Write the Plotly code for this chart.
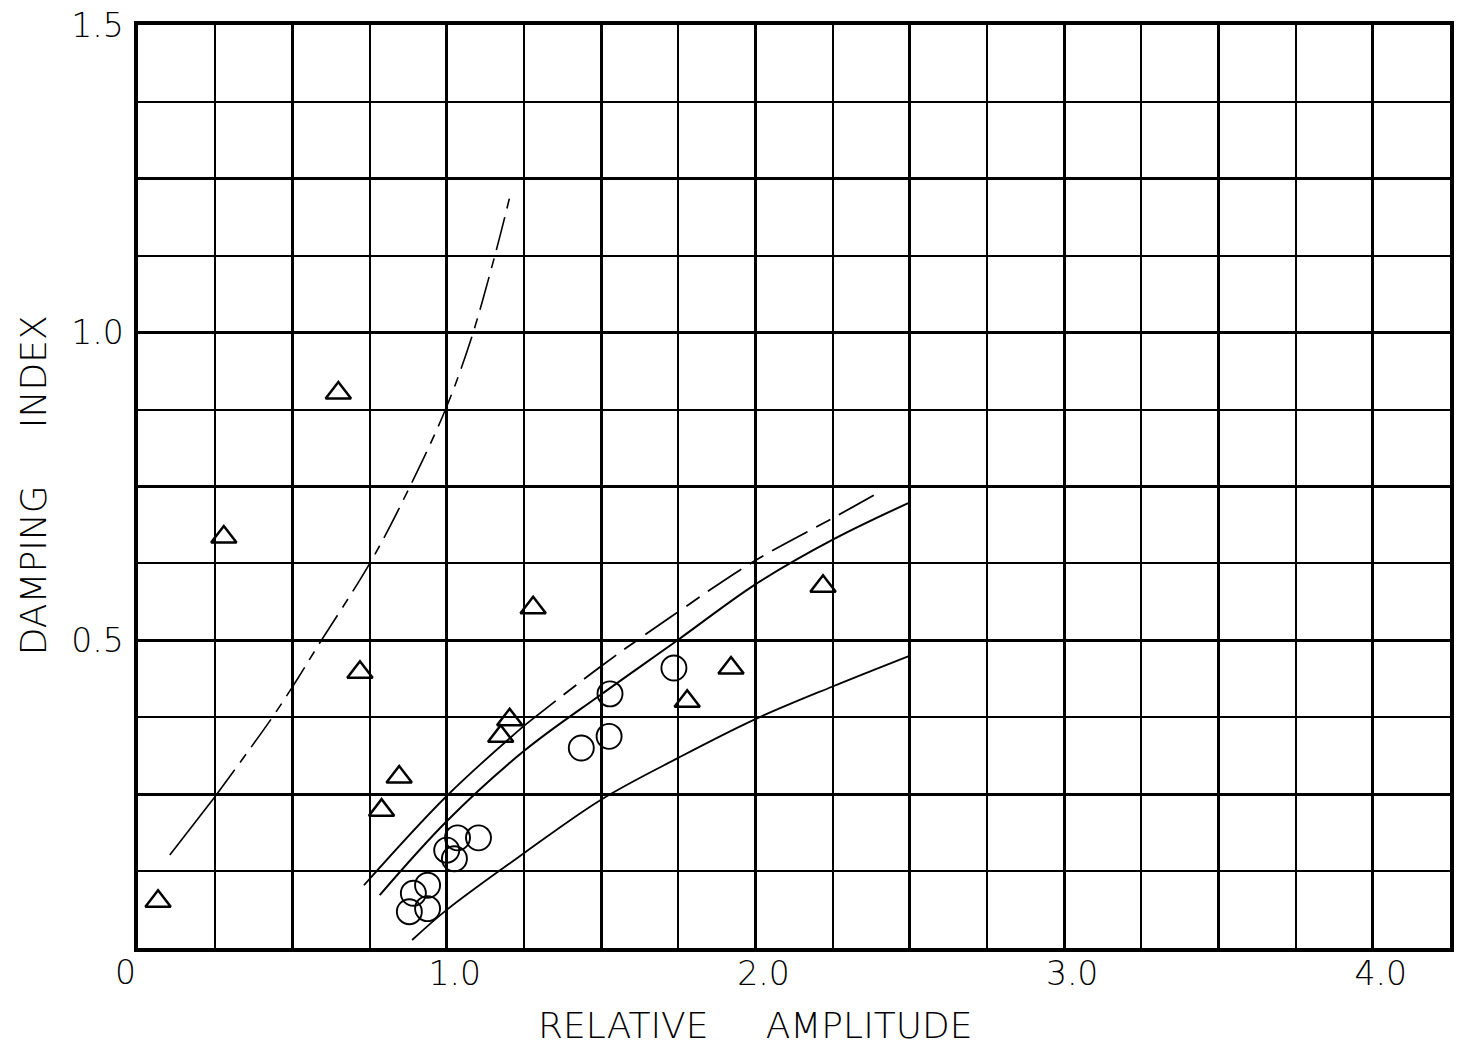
import plotly.graph_objects as go

# ---- data ----
tri_x = [0.065, 0.278, 0.649, 0.719, 0.789, 0.846, 1.175, 1.204, 1.280, 1.779, 1.921, 2.219]
tri_y = [0.076, 0.668, 0.902, 0.448, 0.224, 0.278, 0.344, 0.371, 0.553, 0.401, 0.455, 0.588]

circ_x = [0.879, 0.892, 0.938, 0.938, 1.000, 1.025, 1.035, 1.103, 1.436, 1.526, 1.529, 1.736]
circ_y = [0.059, 0.089, 0.102, 0.064, 0.159, 0.145, 0.179, 0.179, 0.325, 0.344, 0.413, 0.455]

# steep left curve (solid start, dashed upper part)
curve_a_x = [0.103, 0.248, 0.434, 0.515, 0.579, 0.753, 0.875, 0.995, 1.078, 1.159, 1.204]
curve_a_y = [0.151, 0.245, 0.374, 0.436, 0.488, 0.627, 0.744, 0.874, 0.988, 1.131, 1.220]

# upper middle curve (solid lower, dashed upper)
curve_b_x = [0.732, 1.000, 1.250, 1.500, 1.723, 1.994, 2.252, 2.406]
curve_b_y = [0.102, 0.247, 0.361, 0.458, 0.537, 0.628, 0.699, 0.742]

# middle solid curve
curve_c_x = [0.783, 1.000, 1.250, 1.500, 1.750, 2.000, 2.252, 2.495]
curve_c_y = [0.086, 0.206, 0.320, 0.412, 0.501, 0.591, 0.664, 0.723]

# lower solid curve
curve_d_x = [0.888, 1.000, 1.250, 1.500, 1.750, 2.000, 2.250, 2.495]
curve_d_y = [0.013, 0.062, 0.154, 0.241, 0.309, 0.372, 0.425, 0.474]

x_tickvals = [0, 0.5, 1.0, 1.5, 2.0, 2.5, 3.0, 3.5, 4.0]
x_ticktext = ["", "", "1.0", "", "2.0", "", "3.0", "", "4.0"]
y_tickvals = [0, 0.25, 0.5, 0.75, 1.0, 1.25, 1.5]
y_ticktext = ["", "", "0.5", "", "1.0", "", "1.5"]

FONT = "DejaVu Sans"
NB = "\u00a0"

fig = go.Figure()

line_kw = dict(color="black", shape="spline", smoothing=1.0)

# curve A
fig.add_trace(go.Scatter(x=curve_a_x[:2], y=curve_a_y[:2], mode="lines",
                         line=dict(width=1.6, **line_kw), showlegend=False, hoverinfo="skip"))
fig.add_trace(go.Scatter(x=curve_a_x[1:], y=curve_a_y[1:], mode="lines",
                         line=dict(width=1.6, dash="34px,9px,10px,9px", **line_kw),
                         showlegend=False, hoverinfo="skip"))
# curve B
fig.add_trace(go.Scatter(x=curve_b_x[:3], y=curve_b_y[:3], mode="lines",
                         line=dict(width=1.8, **line_kw), showlegend=False, hoverinfo="skip"))
fig.add_trace(go.Scatter(x=curve_b_x[2:], y=curve_b_y[2:], mode="lines",
                         line=dict(width=1.8, dash="40px,10px,16px,10px", **line_kw),
                         showlegend=False, hoverinfo="skip"))
# curve C
fig.add_trace(go.Scatter(x=curve_c_x, y=curve_c_y, mode="lines",
                         line=dict(width=2.0, **line_kw), showlegend=False, hoverinfo="skip"))
# curve D
fig.add_trace(go.Scatter(x=curve_d_x, y=curve_d_y, mode="lines",
                         line=dict(width=1.8, **line_kw), showlegend=False, hoverinfo="skip"))

# markers
fig.add_trace(go.Scatter(x=tri_x, y=tri_y, mode="markers",
                         marker=dict(symbol="triangle-up-open", size=22, color="black",
                                     line=dict(width=2.5, color="black")),
                         showlegend=False))
fig.add_trace(go.Scatter(x=circ_x, y=circ_y, mode="markers",
                         marker=dict(symbol="circle-open", size=25, color="black",
                                     line=dict(width=1.9, color="black")),
                         showlegend=False))

fig.update_layout(
    width=1458, height=1053,
    margin=dict(l=138, r=4, t=25, b=105),
    paper_bgcolor="white", plot_bgcolor="white",
    font=dict(family=FONT, color="black"),
    showlegend=False,
    xaxis=dict(
        range=[0, 4.25], tickmode="array", tickvals=x_tickvals, ticktext=x_ticktext,
        showgrid=True, gridcolor="black", gridwidth=2.6,
        minor=dict(tickmode="linear", tick0=0, dtick=0.25, showgrid=True,
                   gridcolor="black", gridwidth=2.0, ticks=""),
        showline=True, linecolor="black", linewidth=3.5, mirror=True,
        zeroline=False, ticks="", ticklabelshift=8, ticklabelstandoff=-6,
        tickfont=dict(size=33, family=FONT, weight=200),
    ),
    yaxis=dict(
        range=[0, 1.5], tickmode="array", tickvals=y_tickvals, ticktext=y_ticktext,
        showgrid=True, gridcolor="black", gridwidth=2.6,
        minor=dict(tickmode="linear", tick0=0, dtick=0.125, showgrid=True,
                   gridcolor="black", gridwidth=1.6, ticks=""),
        showline=True, linecolor="black", linewidth=3.5, mirror=True,
        zeroline=False, ticks="", ticklabelstandoff=4,
        tickfont=dict(size=33, family=FONT, weight=200),
    ),
    annotations=[
        dict(text="0", x=0, y=0, xref="x", yref="y", showarrow=False,
             xanchor="center", yanchor="middle",
             xshift=-13, yshift=-24, font=dict(size=33, family=FONT, weight=200)),
        dict(text="RELATIVE" + NB * 5 + "AMPLITUDE", x=2.0, y=0,
             xref="x", yref="paper", xanchor="center", yanchor="middle",
             yshift=-77, showarrow=False,
             font=dict(size=36, family=FONT, weight=200)),
        dict(text="DAMPING" + NB * 5 + "INDEX", x=0, y=0.752,
             xref="paper", yref="y", xanchor="center", yanchor="middle",
             xshift=-105, showarrow=False, textangle=-90,
             font=dict(size=36, family=FONT, weight=200)),
    ],
)

fig.write_html("out.html")
